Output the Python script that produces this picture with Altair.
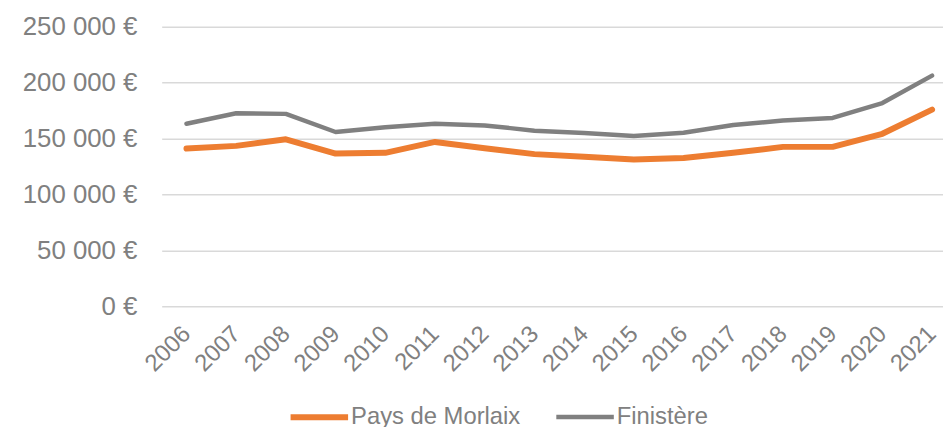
import altair as alt
import pandas as pd

years = list(range(2006, 2022))
morlaix = [141000, 143400, 149300, 136500, 137200, 146900, 141300, 136000,
           133600, 131200, 132500, 137200, 142500, 142500, 154200, 175800]
finistere = [163200, 172600, 172000, 155800, 160000, 163200, 161700, 157000,
             155000, 152200, 155100, 162000, 166100, 168400, 181700, 206200]
series = ["Pays de Morlaix", "Finistère"]
colors = ["#ED7D31", "#808080"]
y_ticks = [0, 50000, 100000, 150000, 200000, 250000]

rows = []
for name, vals in zip(series, [morlaix, finistere]):
    for yr, v in zip(years, vals):
        rows.append({"year": yr, "value": v, "series": name})
df = pd.DataFrame(rows)

FONT = "Liberation Sans"
GREY = "#808080"

chart = alt.Chart(df).mark_line(strokeCap="round", strokeJoin="round").encode(
    x=alt.X("year:Q",
            scale=alt.Scale(domain=[2005.5013, 2021.2198], nice=False, zero=False),
            axis=alt.Axis(title=None, values=years, format="d",
                          labelAngle=-45, labelAlign="right",
                          labelBaseline="middle", labelFontSize=24,
                          labelColor=GREY, labelFont=FONT, labelPadding=24,
                          domain=False, ticks=False, grid=False,
                          labelOverlap=False, labelFlush=False)),
    y=alt.Y("value:Q",
            scale=alt.Scale(domain=[0, 250000], nice=False),
            axis=alt.Axis(title=None, values=y_ticks, labelFontSize=26,
                          labelColor=GREY, labelFont=FONT, labelPadding=25,
                          labelExpr="datum.value == 0 ? '0 €' : replace(format(datum.value, ','), ',', ' ') + ' €'",
                          domain=False, ticks=False, grid=True,
                          gridColor="#D9D9D9", gridWidth=1.5)),
    color=alt.Color("series:N",
                    scale=alt.Scale(domain=series, range=colors),
                    legend=alt.Legend(title=None, orient="none", direction="horizontal",
                                      legendX=127, legendY=362, padding=0,
                                      symbolType="stroke", symbolSize=3364,
                                      symbolStrokeWidth=6, labelFontSize=24,
                                      labelColor=GREY, labelFont=FONT,
                                      labelLimit=400,
                                      labelOffset=0, columnPadding=27,
                                      columns=2)),
    strokeWidth=alt.StrokeWidth("series:N",
                                scale=alt.Scale(domain=series, range=[6, 4.5]),
                                legend=None),
).properties(
    width=788, height=282,
    padding={"left": 14, "top": 4, "right": 0, "bottom": 0},
).configure_view(stroke=None)

chart.save("out.html", embed_options={"renderer": "svg", "actions": False})
